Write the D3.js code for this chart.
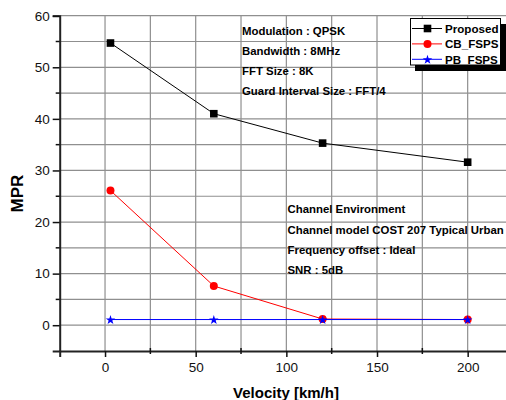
<!DOCTYPE html>
<html><head><meta charset="utf-8">
<script src="https://cdn.jsdelivr.net/npm/d3@7"></script>
<style>body{margin:0;background:#fff}svg{display:block;font-family:"Liberation Sans",Arial,sans-serif}</style>
</head><body><svg id="c" width="506" height="400"></svg>
<script>
const velocity = [3, 60, 120, 200];
const proposed = [54.7, 41.0, 35.3, 31.6];
const cbFsps = [26.1, 7.6, 1.2, 1.1];
const pbFsps = [1.1, 1.1, 1.1, 1.1];
const xTicks = [0, 50, 100, 150, 200];
const yTicks = [0, 10, 20, 30, 40, 50, 60];
const xMinor = [-25, 25, 75, 125, 175, 225];
const yMinor = [-5, 5, 15, 25, 35, 45, 55];
const infoTop = ["Modulation : QPSK", "Bandwidth : 8MHz", "FFT Size : 8K", "Guard Interval Size : FFT/4"];
const infoBottom = ["Channel Environment", "Channel model COST 207 Typical Urban", "Frequency offset : Ideal", "SNR : 5dB"];
const seriesNames = ["Proposed", "CB_FSPS", "PB_FSPS"];
const seriesColors = ["#000000", "#ff0000", "#0000ff"];

const svg = d3.select("#c");
const x = d3.scaleLinear().domain([-25, 225]).range([59.7, 513]);
const y = d3.scaleLinear().domain([-5, 60]).range([351, 15.7]);

// grid
const grid = svg.append("g").attr("stroke", "#8f8f8f").attr("stroke-width", 1.2);
[...xTicks, ...xMinor].filter(v => v > -25).forEach(v => {
  grid.append("line").attr("x1", x(v)).attr("x2", x(v)).attr("y1", y(-5)).attr("y2", y(60));
});
[...yTicks, ...yMinor].filter(v => v > -5).forEach(v => {
  grid.append("line").attr("x1", x(-25)).attr("x2", x(225)).attr("y1", y(v)).attr("y2", y(v));
});

// axes
const xAxis = svg.append("g").attr("transform", `translate(0,${y(-5)})`)
  .call(d3.axisBottom(x).tickValues(xTicks).tickSize(6).tickPadding(5).tickFormat(d3.format("d")));
const yAxis = svg.append("g").attr("transform", `translate(${x(-25)},0)`)
  .call(d3.axisLeft(y).tickValues(yTicks).tickSize(7).tickPadding(3).tickFormat(d3.format("d")));
[xAxis, yAxis].forEach(a => {
  a.select(".domain").attr("stroke", "#222").attr("stroke-width", 2);
  a.selectAll(".tick line").attr("stroke", "#111").attr("stroke-width", 1.5);
  a.selectAll("text").attr("font-size", 13.5).attr("fill", "#111").attr("font-family", "Liberation Sans, Arial, sans-serif");
});
// minor ticks
xMinor.filter(v => v > -25 && v < 225).forEach(v => {
  svg.append("line").attr("x1", x(v)).attr("x2", x(v)).attr("y1", y(-5) - 3).attr("y2", y(-5) + 3)
    .attr("stroke", "#111").attr("stroke-width", 1.5);
});
yMinor.filter(v => v > -5).forEach(v => {
  svg.append("line").attr("x1", x(-25) - 4).attr("x2", x(-25)).attr("y1", y(v)).attr("y2", y(v))
    .attr("stroke", "#111").attr("stroke-width", 1.5);
});

// axis labels
svg.append("text").attr("x", 286).attr("y", 397.5).attr("text-anchor", "middle")
  .attr("font-size", 15).attr("font-weight", "bold").text("Velocity [km/h]");
svg.append("text").attr("transform", "translate(22.5,193.5) rotate(-90)").attr("text-anchor", "middle")
  .attr("font-size", 17).attr("font-weight", "bold").text("MPR");

// series
const allSeries = [proposed, cbFsps, pbFsps];
const line = d3.line().x((d, i) => x(velocity[i])).y(d => y(d));
allSeries.forEach((vals, si) => {
  const col = seriesColors[si];
  svg.append("path").datum(vals).attr("d", line).attr("fill", "none").attr("stroke", col).attr("stroke-width", 1);
  vals.forEach((v, i) => drawMarker(si, x(velocity[i]), y(v)));
});

function drawMarker(si, cx, cy) {
  const col = seriesColors[si];
  if (si === 0) {
    svg.append("rect").attr("x", cx - 3.8).attr("y", cy - 3.8).attr("width", 7.6).attr("height", 7.6).attr("fill", col);
  } else if (si === 1) {
    svg.append("circle").attr("cx", cx).attr("cy", cy).attr("r", 4).attr("fill", col);
  } else {
    svg.append("path").attr("transform", `translate(${cx},${cy + 0.5})`)
      .attr("d", d3.symbol().type(d3.symbolStar).size(28)()).attr("fill", col);
  }
}

// info text
infoTop.forEach((t, i) => {
  svg.append("text").attr("x", 242).attr("y", 35 + i * 20).attr("font-size", 11.4).attr("font-weight", "bold").text(t);
});
infoBottom.forEach((t, i) => {
  svg.append("text").attr("x", 287.5).attr("y", 213.3 + i * 20.3).attr("font-size", 11.4).attr("font-weight", "bold").text(t);
});

// legend
svg.append("rect").attr("x", 415).attr("y", 24).attr("width", 95).attr("height", 47).attr("fill", "#000");
svg.append("rect").attr("x", 410.5).attr("y", 18.5).attr("width", 90).attr("height", 46.5)
  .attr("fill", "#fff").attr("stroke", "#000").attr("stroke-width", 1);
seriesNames.forEach((n, si) => {
  const ly = 28.5 + si * 15.4;
  svg.append("line").attr("x1", 412).attr("x2", 442).attr("y1", ly).attr("y2", ly)
    .attr("stroke", seriesColors[si]).attr("stroke-width", 1);
  drawMarker(si, 427.5, ly);
  svg.append("text").attr("x", 445).attr("y", ly + 4.3).attr("font-size", 11.6).attr("font-weight", "bold").text(n);
});
</script></body></html>
